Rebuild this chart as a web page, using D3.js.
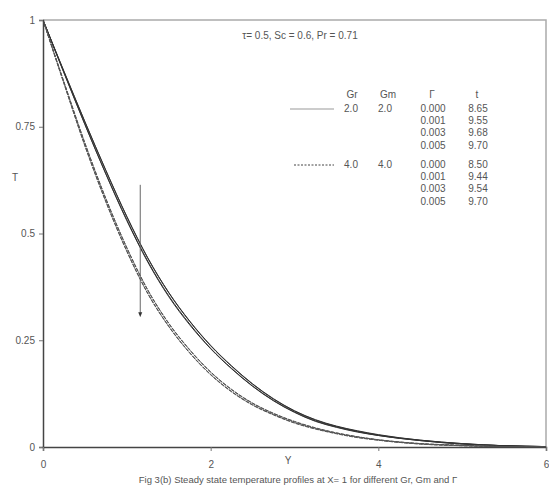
<!DOCTYPE html>
<html>
<head>
<meta charset="utf-8">
<script src="https://cdn.jsdelivr.net/npm/d3@7/dist/d3.min.js"></script>
<style>
  body { margin: 0; background: #fff; }
  svg { font-family: "Liberation Sans", Arial, sans-serif; }
</style>
</head>
<body>
<svg id="chart" width="549" height="486"></svg>
<script>
// Y positions shared by all profiles
const yPoints = [0, 0.25, 0.5, 0.75, 1, 1.25, 1.5, 1.75, 2, 2.25, 2.5, 2.75, 3, 3.25, 3.5, 3.75, 4, 4.5, 5, 5.5, 6];

// temperature profiles, Gr = Gm = 2.0
const tGr2G0 = [1.000, 0.880, 0.762, 0.648, 0.540, 0.443, 0.362, 0.295, 0.238, 0.190, 0.148, 0.113, 0.085, 0.064, 0.049, 0.038, 0.029, 0.016, 0.008, 0.003, 0.001];
const tGr2G1 = [1.000, 0.879, 0.761, 0.647, 0.539, 0.442, 0.361, 0.294, 0.237, 0.189, 0.147, 0.112, 0.084, 0.063, 0.048, 0.037, 0.028, 0.016, 0.008, 0.003, 0.001];
const tGr2G3 = [1.000, 0.877, 0.756, 0.640, 0.532, 0.435, 0.354, 0.288, 0.231, 0.184, 0.143, 0.109, 0.082, 0.061, 0.047, 0.036, 0.027, 0.015, 0.007, 0.003, 0.001];
const tGr2G5 = [1.000, 0.876, 0.755, 0.639, 0.530, 0.433, 0.352, 0.286, 0.230, 0.183, 0.142, 0.108, 0.081, 0.060, 0.046, 0.035, 0.027, 0.015, 0.007, 0.003, 0.001];

// temperature profiles, Gr = Gm = 4.0
const tGr4G0 = [1.000, 0.855, 0.712, 0.582, 0.467, 0.368, 0.290, 0.228, 0.176, 0.135, 0.103, 0.079, 0.060, 0.045, 0.033, 0.024, 0.017, 0.008, 0.004, 0.001, 0.000];
const tGr4G1 = [1.000, 0.854, 0.711, 0.581, 0.466, 0.367, 0.289, 0.227, 0.175, 0.134, 0.102, 0.078, 0.059, 0.044, 0.033, 0.024, 0.017, 0.008, 0.004, 0.001, 0.000];
const tGr4G3 = [1.000, 0.852, 0.706, 0.575, 0.459, 0.360, 0.283, 0.221, 0.170, 0.130, 0.099, 0.076, 0.057, 0.043, 0.032, 0.023, 0.016, 0.007, 0.003, 0.001, 0.000];
const tGr4G5 = [1.000, 0.851, 0.705, 0.574, 0.458, 0.359, 0.282, 0.220, 0.169, 0.129, 0.098, 0.075, 0.056, 0.042, 0.031, 0.022, 0.016, 0.007, 0.003, 0.001, 0.000];

// legend table
const grValues = ['2.0', '4.0'];
const gmValues = ['2.0', '4.0'];
const gammaLabels = ['0.000', '0.001', '0.003', '0.005'];
const tLabels = [['8.65', '9.55', '9.68', '9.70'], ['8.50', '9.44', '9.54', '9.70']];

const xTicks = [0, 2, 4, 6];
const yTicks = [0, 0.25, 0.5, 0.75, 1];

// arrow: Y position, T from/to
const arrowY = 1.16;
const arrowT = [0.614, 0.31];

const margin = {top: 20, right: 3, bottom: 39, left: 43};
const width = 549, height = 486;

const svg = d3.select('#chart');

const x = d3.scaleLinear().domain([0, 6]).range([margin.left, width - margin.right]);
const y = d3.scaleLinear().domain([0, 1]).range([height - margin.bottom, margin.top]);

// top / right frame
svg.append('path')
    .attr('d', `M${x(0)},${y(1)}H${x(6)}V${y(0)}`)
    .attr('fill', 'none')
    .attr('stroke', '#aaa')
    .attr('stroke-width', 1.5);

const series = [
    {vals: tGr2G0, stroke: '#333', dash: null},
    {vals: tGr2G1, stroke: '#333', dash: null},
    {vals: tGr2G3, stroke: '#333', dash: null},
    {vals: tGr2G5, stroke: '#333', dash: null},
    {vals: tGr4G0, stroke: '#555', dash: '4,1'},
    {vals: tGr4G1, stroke: '#555', dash: '4,1'},
    {vals: tGr4G3, stroke: '#555', dash: '4,1'},
    {vals: tGr4G5, stroke: '#555', dash: '4,1'}
];

const line = d3.line()
    .x((d, i) => x(yPoints[i]))
    .y(d => y(d))
    .curve(d3.curveMonotoneX);

svg.append('g')
    .selectAll('path')
    .data(series)
    .join('path')
    .attr('d', d => line(d.vals))
    .attr('fill', 'none')
    .attr('stroke', d => d.stroke)
    .attr('stroke-width', 1)
    .attr('stroke-dasharray', d => d.dash);

// axes
const yAxis = svg.append('g')
    .attr('transform', `translate(${margin.left},0)`)
    .call(d3.axisLeft(y).tickValues(yTicks).tickSize(4).tickPadding(4).tickFormat(d => String(d)));
const xAxis = svg.append('g')
    .attr('transform', `translate(0,${height - margin.bottom})`)
    .call(d3.axisBottom(x).tickValues(xTicks).tickSize(4).tickPadding(10).tickFormat(d => String(d)));

[xAxis, yAxis].forEach(a => {
    a.select('.domain').attr('stroke', '#444').attr('stroke-width', 1.5);
    a.selectAll('.tick line').attr('stroke', '#777');
    a.selectAll('.tick text').attr('fill', '#555').style('font-size', '10px').style('font-family', '"Liberation Sans", Arial, sans-serif');
});

// arrow
svg.append('defs').append('marker')
    .attr('id', 'head')
    .attr('viewBox', '0 0 10 10')
    .attr('refX', 5).attr('refY', 5)
    .attr('markerWidth', 5).attr('markerHeight', 5)
    .attr('orient', 'auto')
    .append('path')
    .attr('d', 'M0,1L10,5L0,9Z')
    .attr('fill', '#333');

svg.append('line')
    .attr('x1', x(arrowY)).attr('x2', x(arrowY))
    .attr('y1', y(arrowT[0])).attr('y2', y(arrowT[1]))
    .attr('stroke', '#666')
    .attr('stroke-width', 1)
    .attr('marker-end', 'url(#head)');

// texts
const txt = (tx, ty, s, anchor = 'start', size = 10) => svg.append('text')
    .attr('x', tx).attr('y', ty)
    .attr('text-anchor', anchor)
    .attr('dominant-baseline', 'middle')
    .attr('fill', '#555')
    .style('font-size', size + 'px')
    .text(s);

txt(300, 36, 'τ= 0.5,   Sc = 0.6, Pr  = 0.71', 'middle');
txt(15, 178, 'T', 'middle');
txt(288, 461, 'Y', 'middle');
txt(298, 480, 'Fig 3(b)  Steady state temperature profiles at X= 1 for different Gr, Gm and Γ', 'middle', 9.5);

// legend
const rowH = 12.4;
const groupTop = [109, 165];
txt(352, 95, 'Gr', 'middle');
txt(388, 95, 'Gm', 'middle');
txt(432, 95, 'Γ', 'middle');
txt(477, 95, 't', 'middle');

grValues.forEach((gr, gi) => {
    const ry = groupTop[gi];
    svg.append('line')
        .attr('x1', gi === 0 ? 290 : 294).attr('x2', 334)
        .attr('y1', ry).attr('y2', ry)
        .attr('stroke', gi === 0 ? '#999' : '#444')
        .attr('stroke-width', 1)
        .attr('stroke-dasharray', gi === 0 ? null : '2,1.5');
    txt(351, ry, gr, 'middle');
    txt(385, ry, gmValues[gi], 'middle');
    gammaLabels.forEach((g, k) => {
        txt(433, ry + k * rowH, g, 'middle');
        txt(478, ry + k * rowH, tLabels[gi][k], 'middle');
    });
});
</script>
</body>
</html>
